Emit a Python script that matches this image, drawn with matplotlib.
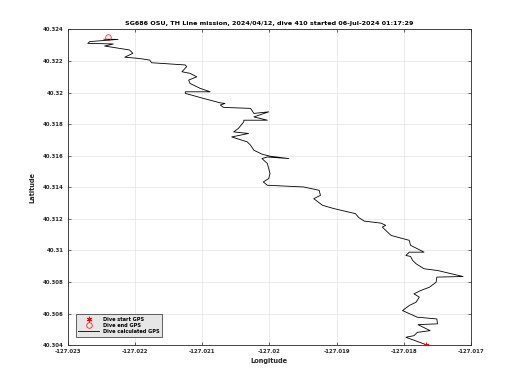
import numpy as np
import matplotlib
matplotlib.use('Agg')
import matplotlib.pyplot as plt
from matplotlib.ticker import FuncFormatter

# dive track (start -> end)
lon = [-127.01767, -127.01797, -127.01785, -127.01780, -127.01761, -127.01779, -127.01750,
       -127.01751, -127.01780, -127.01802, -127.01792, -127.01782, -127.01777, -127.01785,
       -127.01775, -127.01762, -127.01752, -127.01751, -127.01712, -127.01750, -127.01770,
       -127.01782, -127.01787, -127.01790, -127.01797, -127.01792, -127.01770, -127.01780,
       -127.01790, -127.01792, -127.01819, -127.01827, -127.01832, -127.01827, -127.01834,
       -127.01859, -127.01867, -127.01872, -127.01904, -127.01921, -127.01934, -127.01924,
       -127.01926, -127.01949, -127.02003, -127.02009, -127.02001, -127.01999, -127.02001,
       -127.02003, -127.02011, -127.02003, -127.01971, -127.01999, -127.02011, -127.02023,
       -127.02028, -127.02033, -127.02056, -127.02031, -127.02053, -127.02046, -127.02038,
       -127.02038, -127.02003, -127.02023, -127.02001, -127.02023, -127.02028, -127.02068,
       -127.02073, -127.02066, -127.02073, -127.02098, -127.02125, -127.02125, -127.02088,
       -127.02103, -127.02118, -127.02120, -127.02108, -127.02118, -127.02130, -127.02123,
       -127.02125, -127.02175, -127.02178, -127.02195, -127.02215, -127.02203, -127.02208,
       -127.02245, -127.02232, -127.02270, -127.02267, -127.02225, -127.02246]
lat = [40.30403, 40.30450, 40.30460, 40.30481, 40.30492, 40.30530, 40.30535,
       40.30566, 40.30577, 40.30619, 40.30651, 40.30672, 40.30704, 40.30725,
       40.30746, 40.30767, 40.30799, 40.30831, 40.30835, 40.30873, 40.30884,
       40.30916, 40.30937, 40.30962, 40.30968, 40.30989, 40.30989, 40.31011,
       40.31032, 40.31064, 40.31095, 40.31127, 40.31148, 40.31159, 40.31173,
       40.31186, 40.31208, 40.31233, 40.31265, 40.31286, 40.31328, 40.31349,
       40.31381, 40.31402, 40.31413, 40.31434, 40.31455, 40.31487, 40.31519,
       40.31551, 40.31582, 40.31592, 40.31582, 40.31597, 40.31610, 40.31635,
       40.31667, 40.31688, 40.31719, 40.31741, 40.31751, 40.31773, 40.31815,
       40.31825, 40.31825, 40.31846, 40.31878, 40.31868, 40.31900, 40.31906,
       40.31921, 40.31931, 40.31935, 40.31963, 40.31995, 40.32005, 40.32005,
       40.32027, 40.32058, 40.32079, 40.32100, 40.32122, 40.32132, 40.32164,
       40.32175, 40.32189, 40.32206, 40.32217, 40.32224, 40.32249, 40.32270,
       40.32295, 40.32308, 40.32312, 40.32323, 40.32337, 40.32338]

start_gps = (-127.01767, 40.30403)
end_gps = (-127.02240, 40.32354)

xticks = [-127.023, -127.022, -127.021, -127.020, -127.019, -127.018, -127.017]
yticks = [40.304, 40.306, 40.308, 40.310, 40.312, 40.314, 40.316, 40.318, 40.320, 40.322, 40.324]

title = "SG686 OSU, TH Line mission, 2024/04/12, dive 410 started 06-Jul-2024 01:17:29"

plt.rcParams['font.family'] = 'DejaVu Sans'
axcol = '#262626'

fig = plt.figure(figsize=(5.2, 3.9), dpi=100)
ax = fig.add_axes([0.13, 0.115, 0.776, 0.8095])

# asterisk marker like matlab '*'
ax.plot(start_gps[0], start_gps[1], marker=(6, 2, 0), linestyle='none', color='red',
        markersize=4, markeredgewidth=0.6, label='Dive start GPS', zorder=3)
ax.plot(end_gps[0], end_gps[1], 'o', markerfacecolor='none', markeredgecolor='red',
        markersize=4, markeredgewidth=0.5, label='Dive end GPS', zorder=3)
ax.plot(lon, lat, '-', color='black', linewidth=0.6, label='Dive calculated GPS', zorder=2)

ax.set_xlim(-127.023, -127.017)
ax.set_ylim(40.304, 40.324)
ax.set_xticks(xticks)
ax.set_yticks(yticks)
fmt = FuncFormatter(lambda v, p: '%g' % round(v, 6))
ax.xaxis.set_major_formatter(fmt)
ax.yaxis.set_major_formatter(fmt)

ax.grid(True, color='#e3e3e3', linewidth=0.5)
ax.set_axisbelow(True)
ax.tick_params(direction='in', length=2.5, width=0.5, colors=axcol, labelsize=3.9,
               top=True, right=True, pad=3)
for lbl in ax.get_xticklabels() + ax.get_yticklabels():
    lbl.set_fontweight('bold')
for sp in ax.spines.values():
    sp.set_color(axcol)
    sp.set_linewidth(0.6)

ax.set_title(title, fontsize=4.6, fontweight='bold', color='black', pad=3)
ax.set_xlabel('Longitude', fontsize=4.8, fontweight='bold', color=axcol, labelpad=3)
ax.set_ylabel('Latitude', fontsize=4.8, fontweight='bold', color=axcol, labelpad=5)

leg = ax.legend(loc='lower left', fontsize=3.6, frameon=True, fancybox=False,
                borderaxespad=0.0, bbox_to_anchor=(0.02, 0.027), handlelength=4.2,
                borderpad=0.5, labelspacing=0.25, handletextpad=0.8)
leg.get_frame().set_facecolor('#e6e6e6')
leg.get_frame().set_edgecolor(axcol)
leg.get_frame().set_linewidth(0.5)
leg.get_frame().set_alpha(1)
for t in leg.get_texts():
    t.set_fontweight('bold')

fig.savefig('out.png', dpi=100)
